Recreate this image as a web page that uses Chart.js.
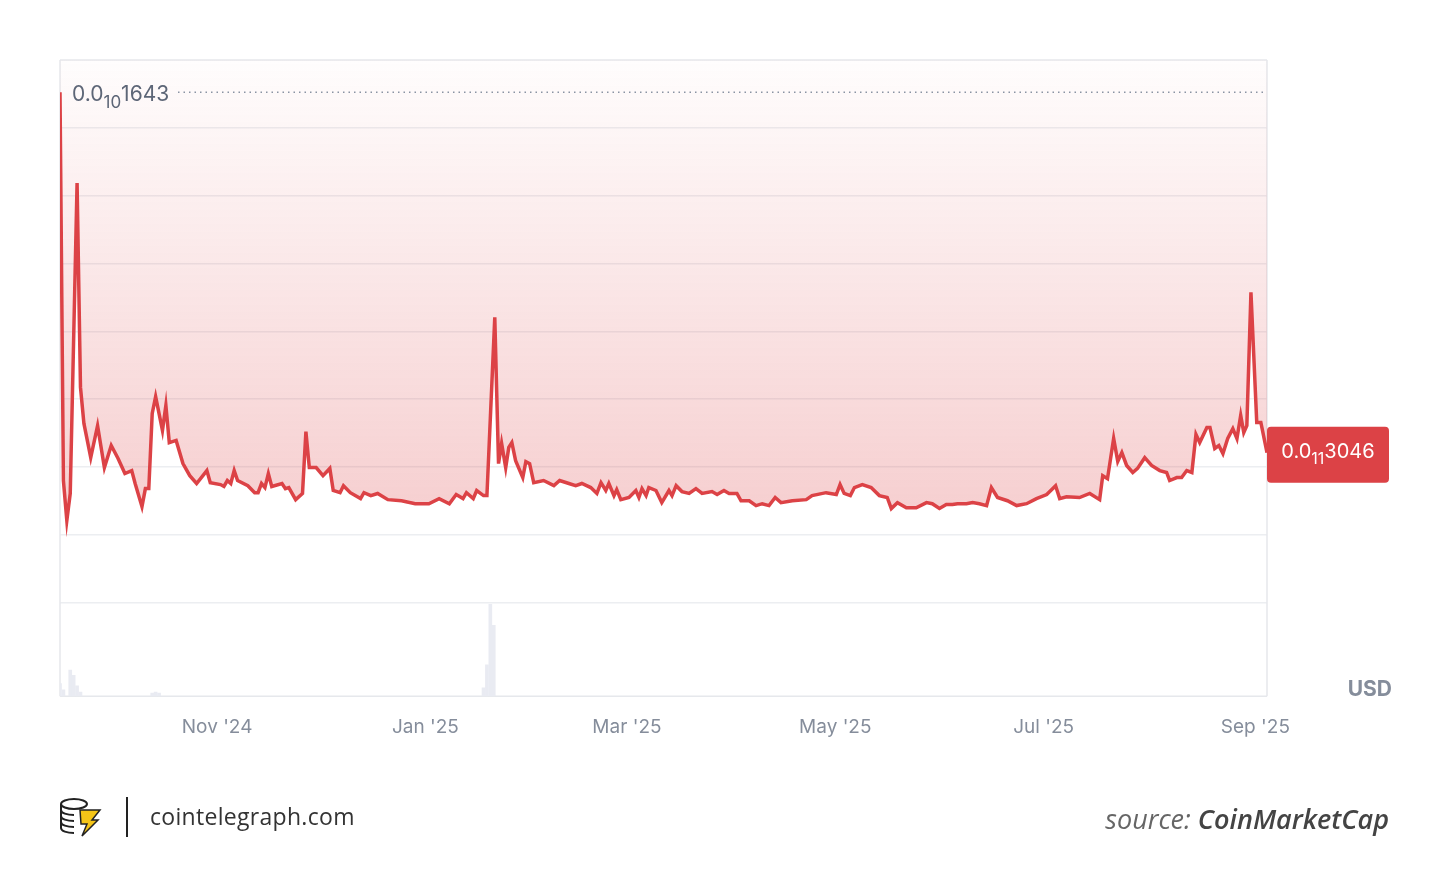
<!DOCTYPE html>
<html>
<head>
<meta charset="utf-8">
<script src="https://cdn.jsdelivr.net/npm/chart.js@4.4.0/dist/chart.umd.min.js"></script>
<style>
  html, body { margin: 0; padding: 0; background: #fff; }
  #wrap { position: relative; width: 1450px; height: 894px; }
  .foot { position: absolute; font-family: "Open Sans", sans-serif; }
</style>
</head>
<body>
<div id="wrap">
  <canvas id="priceChart" width="1450" height="894"></canvas>
  <svg class="foot" style="left:58px;top:796px" width="46" height="42" viewBox="0 0 46 42">
    <g fill="none" stroke="#222" stroke-width="2">
      <ellipse cx="16" cy="8" rx="13" ry="5"/>
      <path d="M3 8v6c0 3 6 5 13 5M3 14v6c0 3 6 5 13 5M3 20v6c0 3 6 5 13 5M3 26v6c0 3 6 5 13 5"/>
    </g>
    <path d="M22 14h20l-8 10h6l-16 16 5-12h-6z" fill="#f5c518" stroke="#222" stroke-width="1.5"/>
  </svg>
  <div class="foot" style="left:126px;top:797px;width:2px;height:40px;background:#222"></div>
  <div class="foot" style="left:150px;top:800px;font-size:23px;color:#333;letter-spacing:0.3px">cointelegraph.com</div>
  <div class="foot" style="right:61px;top:800px;font-size:27px;color:#666;font-style:italic">source: <b style="color:#444;font-weight:600">CoinMarketCap</b></div>
</div>
<script>
// day 0 = 16 Sep 2024, prices in units of 1e-12 USD
const days = [0,1,2,3,5,6,7,9,11,13,15,17,19,21,22,24,25,26,27,28,30,31,32,34,36,38,40,43,44,47,48,49,50,51,52,55,57,58,59,60,61,62,65,66,67,69,71,72,73,75,77,79,80,82,83,85,88,89,91,93,96,100,104,108,111,114,116,118,119,121,122,124,125,
  127.3,128.4,129.3,130.5,131.4,132.3,133.4,135.5,136.4,137.5,138.7,141.6,144.6,146.3,149,151,152.8,155.4,157.2,158.4,159.8,160.7,162.2,163,164.2,166.6,168.6,169.5,170.4,171.6,172.4,174.5,176.2,178.3,179.2,180.4,182.1,184.2,186.2,188,190.9,192.4,194.4,195.9,198.2,199.4,201.8,203.8,205.6,207.6,209.4,211.1,214.4,218.5,220.2,224.3,227.3,228.4,229.6,231.4,232.6,234.9,237.5,239.9,242.2,243.4,245.2,247.8,250.7,253.7,255.4,257.5,259.5,261.3,262.8,265.4,267.2,269.2,271.3,272.7,274.5,277.4,280.1,283,285.9,288.9,291.5,292.7,294.7,298.5,301.5,304.4,305.3,306.7,308.5,309.7,310.9,312.3,314.1,315.5,317.6,319.6,322,324,324.9,327,328.4,329.9,331.4,332.6,333.7,335.8,336.7,338.1,339.3,340.5,341.9,343.4,344.6,345.7,346.6,347.5,348.7,350.4,351.6,353.4];
const prices = [16.43,2.01,0.52,1.53,13.06,5.47,4.13,2.86,4.05,2.49,3.31,2.83,2.27,2.38,1.90,1.04,1.71,1.71,4.50,5.13,3.87,4.80,3.42,3.50,2.64,2.19,1.90,2.38,1.93,1.86,1.79,2.01,1.90,2.38,2.01,1.82,1.56,1.56,1.90,1.75,2.27,1.79,1.90,1.71,1.75,1.30,1.53,3.83,2.49,2.49,2.19,2.46,1.64,1.56,1.82,1.56,1.34,1.56,1.45,1.53,1.30,1.26,1.15,1.15,1.34,1.15,1.49,1.34,1.56,1.34,1.64,1.45,1.45,
  8.07,2.64,3.39,2.49,3.24,3.42,2.75,2.12,2.71,2.64,1.93,2.01,1.82,2.01,1.90,1.82,1.90,1.75,1.53,1.93,1.64,1.90,1.45,1.67,1.30,1.38,1.64,1.38,1.71,1.45,1.75,1.64,1.19,1.64,1.45,1.82,1.60,1.53,1.71,1.53,1.60,1.49,1.64,1.53,1.53,1.26,1.26,1.08,1.15,1.08,1.38,1.19,1.26,1.30,1.45,1.56,1.49,1.86,1.53,1.45,1.75,1.86,1.75,1.45,1.38,0.97,1.19,1.00,1.00,1.19,1.15,0.97,1.12,1.12,1.15,1.15,1.19,1.15,1.08,1.75,1.38,1.26,1.08,1.15,1.34,1.49,1.82,1.34,1.41,1.38,1.53,1.30,2.19,2.08,3.57,2.72,3.05,2.57,2.31,2.46,2.86,2.57,2.38,2.31,2.01,2.12,2.12,2.38,2.31,3.72,3.42,3.98,3.98,3.20,3.31,3.01,3.57,3.94,3.57,4.43,3.79,4.05,9.00,4.17,4.17,3.046];
const volDays = [0,1,3,4,5,6,27,28,29,124,125,126,127];
const volumes = [12,6,25,20,10,4,3,4,3,8,30,88,68];
const monthDays = [46,107,166,227,288,350];
const monthLabels = ["Nov '24","Jan '25","Mar '25","May '25","Jul '25","Sep '25"];
const maxLabel = ['0.0', '10', '1643'];
const lastLabel = ['0.0', '11', '3046'];

const RED = '#dc4246';
const FONT = '"Inter", "Open Sans", sans-serif';

function drawSub(ctx, parts, x, y, size, color) {
  ctx.fillStyle = color;
  ctx.textBaseline = 'alphabetic';
  ctx.textAlign = 'left';
  ctx.font = size + 'px ' + FONT;
  ctx.fillText(parts[0], x, y);
  x += ctx.measureText(parts[0]).width;
  ctx.font = Math.round(size * 0.8) + 'px ' + FONT;
  ctx.fillText(parts[1], x, y + size * 0.3);
  x += ctx.measureText(parts[1]).width;
  ctx.font = size + 'px ' + FONT;
  ctx.fillText(parts[2], x, y);
}
function subWidth(ctx, parts, size) {
  ctx.font = size + 'px ' + FONT;
  let w = ctx.measureText(parts[0]).width + ctx.measureText(parts[2]).width;
  ctx.font = Math.round(size * 0.8) + 'px ' + FONT;
  return w + ctx.measureText(parts[1]).width;
}

const overlay = {
  id: 'overlay',
  beforeDatasetsDraw(chart) {
    const { ctx, chartArea: a } = chart;
    ctx.save();
    ctx.strokeStyle = '#e6e8ec';
    ctx.lineWidth = 1.5;
    ctx.beginPath();
    ctx.moveTo(a.left, a.top); ctx.lineTo(a.left, a.bottom);
    ctx.moveTo(a.right, a.top); ctx.lineTo(a.right, a.bottom);
    ctx.moveTo(a.left, a.top); ctx.lineTo(a.right, a.top);
    ctx.moveTo(a.left, a.bottom); ctx.lineTo(a.right, a.bottom);
    ctx.stroke();
    ctx.restore();
  },
  afterDatasetsDraw(chart) {
    const { ctx, chartArea: a, scales } = chart;
    const y = scales.y;
    const ym = y.getPixelForValue(Math.max(...prices));
    ctx.save();
    ctx.strokeStyle = '#8a93a3';
    ctx.setLineDash([1.5, 4]);
    ctx.lineWidth = 1.5;
    ctx.beginPath();
    ctx.moveTo(a.left + 118, ym); ctx.lineTo(a.right, ym);
    ctx.stroke();
    ctx.setLineDash([]);
    drawSub(ctx, maxLabel, a.left + 12, ym + 9, 21, '#5d6677');
    // last price tag
    const yl = y.getPixelForValue(prices[prices.length - 1]);
    const w = 122, h = 56;
    ctx.fillStyle = RED;
    ctx.beginPath();
    ctx.roundRect(a.right, yl - 26, w, h, 4);
    ctx.fill();
    const tw = subWidth(ctx, lastLabel, 20);
    drawSub(ctx, lastLabel, a.right + (w - tw) / 2, yl + 5, 20, '#fff');
    // USD
    ctx.fillStyle = '#858d9b';
    ctx.font = 'bold 21px ' + FONT;
    ctx.textAlign = 'right';
    ctx.fillText('USD', a.right + 125, a.bottom);
    ctx.restore();
  }
};

const ctx = document.getElementById('priceChart').getContext('2d');
const grad = ctx.createLinearGradient(0, 60, 0, 520);
grad.addColorStop(0, 'rgba(220,66,70,0.01)');
grad.addColorStop(1, 'rgba(220,66,70,0.26)');

new Chart(ctx, {
  type: 'line',
  data: {
    datasets: [{
      data: days.map((d, i) => ({ x: d, y: prices[i] })),
      borderColor: RED,
      borderWidth: 3.5,
      pointRadius: 0,
      tension: 0,
      fill: 'end',
      backgroundColor: grad,
      yAxisID: 'y'
    }, {
      type: 'bar',
      data: volDays.map((d, i) => ({ x: d, y: volumes[i] })),
      backgroundColor: '#e9ebf2',
      barThickness: 3,
      yAxisID: 'y2'
    }]
  },
  options: {
    responsive: false,
    animation: false,
    layout: { padding: { left: 60, right: 183, top: 60, bottom: 143 } },
    plugins: { legend: { display: false }, tooltip: { enabled: false } },
    scales: {
      x: {
        type: 'linear', min: 0, max: 353.4, offset: false,
        afterBuildTicks(s) { s.ticks = monthDays.map(v => ({ value: v })); },
        ticks: {
          autoSkip: false, maxRotation: 0, padding: 12,
          color: '#858d9b', font: { size: 19, family: FONT },
          callback(v) { return monthLabels[monthDays.indexOf(v)]; }
        },
        grid: { display: false, offset: false }, border: { display: false }
      },
      y: {
        min: -6, max: 17.63,
        afterBuildTicks(s) { s.ticks = [-1,0,1,2,3,4,5,6].map(k => ({ value: k * 2.518 })); },
        ticks: { display: false },
        grid: { color: '#eceef1', lineWidth: 1.5, drawTicks: false },
        border: { display: false }
      },
      y2: {
        display: false, min: 0, max: 610
      }
    }
  },
  plugins: [overlay]
});
</script>
</body>
</html>
